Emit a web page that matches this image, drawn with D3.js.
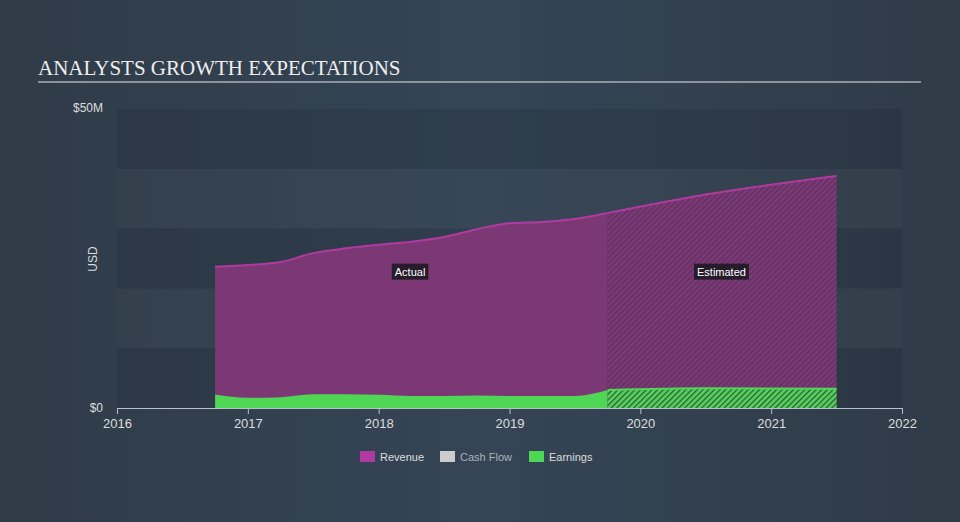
<!DOCTYPE html>
<html>
<head>
<meta charset="utf-8">
<script src="https://cdnjs.cloudflare.com/ajax/libs/d3/7.8.5/d3.min.js"></script>
<style>
  html, body { margin: 0; padding: 0; }
  body { width: 960px; height: 522px; overflow: hidden;
         background: linear-gradient(90deg, #2f3b47 0%, #354556 50%, #2f3b47 100%); }
  text { font-family: "Liberation Sans", Arial, sans-serif; }
</style>
</head>
<body>
<svg id="chart" width="960" height="522"></svg>
<script>
// data (years as decimal, values in $M)
var revActualX = [2016.75, 2017, 2017.25, 2017.5, 2017.75, 2018, 2018.25, 2018.5, 2018.75, 2019, 2019.25, 2019.5, 2019.75];
var revActualY = [23.6, 23.9, 24.4, 25.9, 26.7, 27.3, 27.8, 28.6, 29.9, 30.9, 31.1, 31.6, 32.6];
var revEstX = [2019.75, 2020.5, 2021.5];
var revEstY = [32.6, 35.7, 38.8];
var earnActualX = [2016.75, 2017, 2017.25, 2017.5, 2017.75, 2018, 2018.25, 2018.5, 2018.75, 2019, 2019.25, 2019.5, 2019.75];
var earnActualY = [2.2, 1.7, 1.8, 2.3, 2.3, 2.2, 2.0, 2.0, 2.1, 2.0, 2.0, 2.0, 3.0];
var earnEstX = [2019.75, 2020.5, 2021.5];
var earnEstY = [3.0, 3.3, 3.2];
var yearTicks = [2016, 2017, 2018, 2019, 2020, 2021, 2022];
var legendNames = ['Revenue', 'Cash Flow', 'Earnings'];

var revColor = '#b03aa0', revFill = '#7b3874';
var earnColor = '#4fd654';
var cashColor = '#cccccc';

var svg = d3.select('#chart');
var plotLeft = 117, plotRight = 902, plotTop = 109, plotBottom = 408;

var x = d3.scaleLinear().domain([2016, 2022]).range([plotLeft, plotRight]);
var y = d3.scaleLinear().domain([0, 50]).range([plotBottom, plotTop]);

// hatch patterns
var defs = svg.append('defs');
function hatch(id, bg, line, w) {
  var p = defs.append('pattern').attr('id', id)
    .attr('patternUnits', 'userSpaceOnUse')
    .attr('width', 4).attr('height', 4)
    .attr('patternTransform', 'rotate(45)');
  p.append('rect').attr('width', 4).attr('height', 4).attr('fill', bg);
  p.append('line').attr('x1', 0).attr('y1', 0).attr('x2', 0).attr('y2', 4)
    .attr('stroke', line).attr('stroke-width', w);
}
hatch('hatchRev', '#7b3874', '#52305a', 1.8);
hatch('hatchEarn', '#4fd654', '#3a4a4a', 2.4);

// title
svg.append('text').attr('x', 38).attr('y', 75)
  .style('font-family', '"Liberation Serif", "DejaVu Serif", serif')
  .style('font-size', '21px').attr('fill', '#eeeeee')
  .text('ANALYSTS GROWTH EXPECTATIONS');
svg.append('line').attr('x1', 38).attr('x2', 921).attr('y1', 82).attr('y2', 82)
  .attr('stroke', '#a9b0b8').attr('stroke-width', 1.5);

// background bands
var bandVals = [0, 10, 20, 30, 40];
svg.append('g').selectAll('rect').data(bandVals).enter().append('rect')
  .attr('x', plotLeft).attr('width', plotRight - plotLeft)
  .attr('y', function(d) { return y(d + 10); })
  .attr('height', function(d) { return y(d) - y(d + 10); })
  .attr('fill', function(d, i) { return i % 2 === 0 ? '#1c2430' : '#ffffff'; })
  .attr('opacity', function(d, i) { return i % 2 === 0 ? 0.22 : 0.015; });

function pts(xs, ys) { return xs.map(function(v, i) { return [v, ys[i]]; }); }

var area = d3.area().curve(d3.curveMonotoneX)
  .x(function(d) { return x(d[0]); }).y0(y(0)).y1(function(d) { return y(d[1]); });
var line = d3.line().curve(d3.curveMonotoneX)
  .x(function(d) { return x(d[0]); }).y(function(d) { return y(d[1]); });

var revA = pts(revActualX, revActualY), revE = pts(revEstX, revEstY);
var earnA = pts(earnActualX, earnActualY), earnE = pts(earnEstX, earnEstY);

var g = svg.append('g');
g.append('path').datum(revA).attr('d', area).attr('fill', revFill);
g.append('path').datum(revE).attr('d', area).attr('fill', 'url(#hatchRev)');
g.append('path').datum(revA).attr('d', line).attr('fill', 'none').attr('stroke', revColor).attr('stroke-width', 2);
g.append('path').datum(revE).attr('d', line).attr('fill', 'none').attr('stroke', revColor).attr('stroke-width', 2);

g.append('path').datum(earnA).attr('d', area).attr('fill', earnColor);
g.append('path').datum(earnE).attr('d', area).attr('fill', 'url(#hatchEarn)');
g.append('path').datum(earnE).attr('d', line).attr('fill', 'none').attr('stroke', earnColor).attr('stroke-width', 2);

// labels Actual / Estimated
function tag(cx, cy, txt) {
  var t = svg.append('text').attr('x', cx).attr('y', cy + 4).attr('text-anchor', 'middle')
    .style('font-size', '11px').attr('fill', '#ffffff').text(txt);
  var b = t.node().getBBox();
  svg.insert('rect', function() { return t.node(); })
    .attr('x', b.x - 3).attr('y', b.y - 2).attr('width', b.width + 6).attr('height', b.height + 4)
    .attr('fill', '#1e1a24').attr('opacity', 0.9);
}
tag(x(2018.24), y(22.8), 'Actual');
tag(x(2020.62), y(22.8), 'Estimated');

// x axis
var xAxis = svg.append('g').attr('transform', 'translate(0,' + plotBottom + ')')
  .call(d3.axisBottom(x).tickValues(yearTicks).tickFormat(d3.format('d')).tickSizeOuter(0).tickSize(6));
xAxis.select('.domain').attr('stroke', '#b8c0c8');
xAxis.selectAll('.tick line').attr('stroke', '#b8c0c8');
xAxis.selectAll('.tick text').attr('fill', '#dddddd').style('font-size', '13px').attr('dy', '0.85em');

// y labels
svg.append('text').attr('x', 103).attr('y', 112).attr('text-anchor', 'end')
  .style('font-size', '12px').attr('fill', '#dddddd').text('$50M');
svg.append('text').attr('x', 103).attr('y', 412).attr('text-anchor', 'end')
  .style('font-size', '12px').attr('fill', '#dddddd').text('$0');
svg.append('text').attr('transform', 'translate(97,259) rotate(-90)').attr('text-anchor', 'middle')
  .style('font-size', '12px').attr('fill', '#dddddd').text('USD');

// legend
var legX = [360, 440, 529];
var legC = [revColor, cashColor, earnColor];
var leg = svg.append('g').selectAll('g').data(legendNames).enter().append('g')
  .attr('transform', function(d, i) { return 'translate(' + legX[i] + ',451)'; });
leg.append('rect').attr('width', 15).attr('height', 11).attr('fill', function(d, i) { return legC[i]; });
leg.append('text').attr('x', 20).attr('y', 10).style('font-size', '11px')
  .attr('fill', function(d, i) { return i === 1 ? '#aab2ba' : '#dddddd'; }).text(function(d) { return d; });
</script>
</body>
</html>
